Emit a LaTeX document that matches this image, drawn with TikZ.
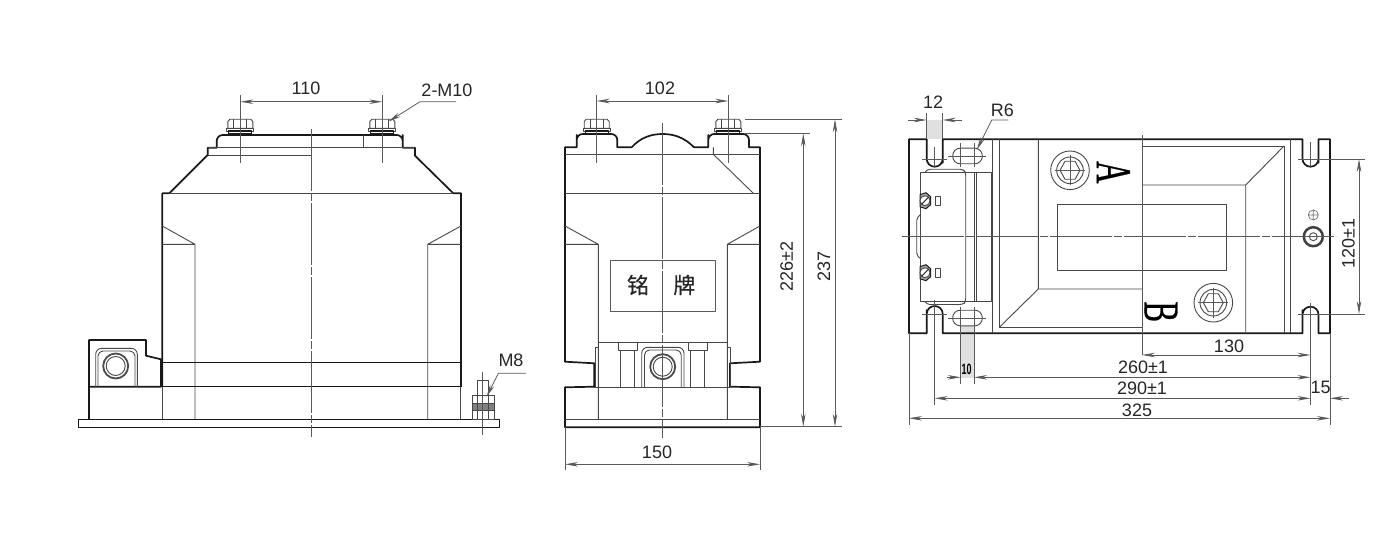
\documentclass[tikz,border=0pt]{standalone}
\usepackage{fontspec}
\setmainfont{Liberation Sans}
\newfontfamily\cjk[FakeBold=.5]{Noto Sans CJK SC}
\newfontfamily\termfont[FakeBold=.7]{Liberation Serif}
\usetikzlibrary{arrows.meta}

\begin{document}
\begin{tikzpicture}[x=1pt,y=-1pt,>={Stealth[length=13pt,width=4.5pt]},line join=round]

    \tikzstyle{outer}=[draw=black!90,line width=1.7pt]
    \tikzstyle{part}=[draw=black!72,line width=.9pt]
    \tikzstyle{axisline}=[draw=black!65,line width=.8pt,dash pattern=on 62pt off 2pt on 8pt off 2pt]
    \tikzstyle{extline}=[draw=black!65,line width=.8pt]
    \tikzstyle{dim}=[draw=black!65,line width=.8pt]
    \tikzstyle{lab}=[inner sep=0pt,font=\fontsize{18}{18}\selectfont,text=black!85]
    \tikzstyle{gray part}=[fill=black!12,draw=none]

    \useasboundingbox (0,0) rectangle (1400,548);

    % left view
    \draw[outer,line width=1.2pt] (78.3,419.3) rectangle (499.3,427.3);
    \draw[outer] (162.3,387) -- (162.3,193.3) -- (169.3,193.3) -- (207.7,155) -- (207.7,147.7) -- (216.7,147.7)
        -- (216.7,141) [rounded corners=6pt] -- (216.7,135) -- (402.7,135) -- (402.7,141) [sharp corners] -- (402.7,147.7) -- (415,147.7)
        -- (415,155.7) -- (453.3,193.3) -- (461,193.3) -- (461,387);
    \draw[part] (207.7,147.7) -- (415,147.7) (207.7,155) -- (311.7,155) (363,135) -- (363,147.7);
    \draw[part] (169.3,193.3) -- (453.3,193.3);
    \draw[part] (162.3,226) -- (195,244.3) -- (195,419.3) (162.3,244.3) -- (195,244.3);
    \draw[part] (461,226) -- (427.7,244.3) -- (427.7,419.3) (461,244.3) -- (427.7,244.3);
    \draw[outer,line width=1.1pt] (162.3,362.3) -- (461,362.3) (162.3,386.7) -- (461,386.7);
    \draw[part] (162.3,387) -- (162.3,419.3) (460.3,387) -- (460.3,419.3);
    \draw[outer] (89,419.3) -- (89,340) -- (146,340) -- (146,355.7) -- (161,359.3) -- (161,386.7) -- (89,386.7);
    \draw[part,rounded corners=6pt] (95.7,387) -- (95.7,348.3) -- (137.3,348.3) -- (137.3,387);
    \draw[part,rounded corners=5pt] (98,387) -- (98,351) -- (135,351) -- (135,387);
    \draw[draw=black!70,line width=1.8pt] (115.7,366) circle (12.5);
    \draw[part] (115.7,366) circle (9.5);
    \draw[axisline] (311.7,129) -- (311.7,437);

    % M8 bolt
    \draw[part] (477.7,395) -- (477.7,380.7) -- (488.3,380.7) -- (488.3,395);
    \fill[black!50] (472.7,403.3) rectangle (494,410);
    \draw[part] (472.7,395) rectangle (494,419.3) (472.7,403.3) -- (494,403.3) (472.7,410) -- (494,410);
    \draw[part] (477.7,395) -- (477.7,419.3) (488.3,395) -- (488.3,419.3);
    \draw[extline] (482.7,372) -- (482.7,435);
    \draw[dim,<-] (486.5,397) -- (498.3,373.3) -- (526,373.3);
    \node[lab] (labelMeight) at (511,360) {M8};

    % middle view
    \draw[outer] (565,147.3) -- (565,361.7) -- (594.3,363.3) -- (594.3,386.7) -- (565,387.3) -- (565,427.3)
        -- (760,427.3) -- (760,387.3) -- (730,386.7) -- (730,363.3) -- (760,361.7) -- (760,147.3) -- (749,147.3)
        -- (749,141) [rounded corners=6pt] -- (749,134) -- (708.3,134) -- (708.3,141) [sharp corners] -- (708.3,147.3) -- (694,147.3)
        .. controls (684,137) and (673,134) .. (662.7,134) .. controls (652,134) and (641,137) .. (631.7,147.3) -- (617.3,147.3)
        -- (617.3,141) [rounded corners=6pt] -- (617.3,134) -- (576.7,134) -- (576.7,141) [sharp corners] -- (576.7,147.3) -- cycle;
    \draw[part] (565,154.3) -- (760,154.3) (565,193.3) -- (760,193.3) (565,419.3) -- (760,419.3);
    \draw[part] (713.3,147.3) -- (713.3,154.3) -- (753.3,193.3);
    \draw[part] (565,226) -- (598.3,244.3) -- (598.3,419.3) (565,244.3) -- (598.3,244.3);
    \draw[part] (760,226) -- (727.3,244.3) -- (727.3,419.3) (760,244.3) -- (727.3,244.3);
    \draw[part] (598.3,342.5) -- (727.3,342.5) (594.3,387) -- (730,387);
    \draw[part] (595,387) -- (595,347) -- (598.3,347) (730,387) -- (730,347) -- (727.3,347);
    \foreach \tabx in {618.3,688.3} {
        \draw[part] (\tabx,342.5) -- (\tabx,350.7) -- (\tabx+19,350.7) -- (\tabx+19,342.5);
        \draw[part] (\tabx+2.5,350.7) -- (\tabx+2.5,387) (\tabx+15.7,350.7) -- (\tabx+15.7,387);
    }
    \draw[part,rounded corners=6pt] (641.7,387) -- (641.7,347.3) -- (684,347.3) -- (684,387);
    \draw[part,rounded corners=5pt] (644.5,387) -- (644.5,350) -- (681.2,350) -- (681.2,387);
    \draw[draw=black!70,line width=1.8pt] (662.7,366.7) circle (12.5);
    \draw[part] (662.7,366.7) circle (9.5);
    \node[draw=black!65,line width=.8pt,minimum width=105pt,minimum height=51.7pt,inner sep=0pt] (plate) at (662.5,285.8) {};
    \node[lab,font=\cjk\fontsize{22}{22}\selectfont] (plateLeft) at (638,285) {铭};
    \node[lab,font=\cjk\fontsize{22}{22}\selectfont] (plateRight) at (684.3,285) {牌};
    \draw[axisline] (662.7,123) -- (662.7,438);

    % bolts
    \foreach \boltx in {240.3,382.3,596.7,728.3} {
        \draw[part,fill=white] (\boltx-12.5,128.3) -- (\boltx-12.5,121.5) -- (\boltx-10.5,119.3) -- (\boltx+10.5,119.3) -- (\boltx+12.5,121.5) -- (\boltx+12.5,128.3) -- cycle;
        \draw[part] (\boltx-6.5,119.3) -- (\boltx-6.5,128.3) (\boltx+6.5,119.3) -- (\boltx+6.5,128.3);
        \draw[part,fill=white] (\boltx-13.5,128.3) rectangle (\boltx+13.5,131);
        \draw[outer,line width=1.1pt] (\boltx-11.5,131) rectangle (\boltx+11.5,134);
    }

    % right view
    \fill[gray part] (926.7,120) rectangle (942.7,139.3);
    \fill[gray part] (960.7,326) rectangle (974,378);
    \draw[outer] (909,139.3) -- (926.7,139.3) -- (926.7,155) [rounded corners=7.9pt] -- (926.7,166.7) -- (942.7,166.7) -- (942.7,155)
        [sharp corners] -- (942.7,139.3) -- (1302.5,139.3) -- (1302.5,155) [rounded corners=7.9pt] -- (1302.5,166.7) -- (1318.5,166.7) -- (1318.5,155)
        [sharp corners] -- (1318.5,139.3) -- (1330,139.3) -- (1330,333.3) -- (1318.5,333.3) -- (1318.5,318)
        [rounded corners=7.9pt] -- (1318.5,306.7) -- (1302.5,306.7) -- (1302.5,318) [sharp corners] -- (1302.5,333.3)
        -- (942.7,333.3) -- (942.7,318) [rounded corners=7.9pt] -- (942.7,306) -- (926.7,306) -- (926.7,318)
        [sharp corners] -- (926.7,333.3) -- (909,333.3) -- cycle;
    \draw[part] (992.7,139.3) -- (992.7,333.3) (999.3,139.3) -- (999.3,327.3) -- (1142,327.3);
    \draw[part] (999.3,327.3) -- (1038.3,289) -- (1142,289) (1038.3,139.3) -- (1038.3,289);
    \draw[part] (1142,146) -- (1284,146) -- (1284,333.3) (1290,139.3) -- (1290,333.3);
    \draw[part] (1284,146) -- (1245.7,185) -- (1142,185) (1245.7,185) -- (1245.7,333.3);
    \draw[part] (1057.7,204.3) rectangle (1226,270);
    \draw[extline] (1142,135) -- (1142,355);

    % terminal block
    \draw[part,fill=white] (920,172.3) rectangle (991,301.7);
    \draw[part,rounded corners=3pt] (925,172.3) -- (927,169.3) -- (963,169.3) -- (965.7,172.3) -- (965.7,301.7) -- (963,304.5) -- (927,304.5) -- (925,301.7);
    \draw[part] (974,172.3) -- (974,301.7) (976.5,172.3) -- (976.5,301.7);
    \draw[part,rounded corners=2pt] (920,215) -- (916.7,218.3) -- (916.7,255) -- (920,258.3);
    \foreach \screwy/\markup in {200.7/196.5,272.7/268.3} {
        \draw[outer,line width=1pt,fill=black!35] (920,\screwy-6) -- (926,\screwy-8) -- (930.5,\screwy-4) -- (930.5,\screwy+4) -- (926,\screwy+8) -- (920,\screwy+6) -- cycle;
        \draw[part,fill=white] (925,\screwy) circle (5);
        \draw[outer,line width=1pt] (921.5,\screwy+3.5) -- (928.5,\screwy-3.5);
        \draw[part] (935,\markup) rectangle (940.7,\markup+9.3);
    }

    % slots and holes
    \foreach \holey in {156,318}
        \draw[part,rounded corners=7.5pt] (952.7,\holey-7.8) rectangle (982.3,\holey+7.8);
    \draw[extline] (948,156) -- (986,156) (948,318) -- (986,318);
    \draw[extline] (960.7,143.3) -- (960.7,166.7) (974,143.3) -- (974,166.7);
    \draw[extline] (960.7,306.7) -- (960.7,384) (974,306.7) -- (974,384);
    \draw[extline] (926.7,113) -- (926.7,139.3) (942.7,113) -- (942.7,139.3);
    \draw[extline] (922.3,159) -- (946.7,159) (922.3,314) -- (946.7,314);
    \draw[extline] (934.7,146.7) -- (934.7,166.7) (934.7,300) -- (934.7,405);
    \draw[extline] (1310.5,141.7) -- (1310.5,166.7) (1310.5,303) -- (1310.5,405);
    \draw[extline] (909,333.3) -- (909,425) (1330,333.3) -- (1330,425);

    % A and B terminals
    \foreach \termx/\termy in {1070/170.3,1213.3/302.7} {
        \draw[part] (\termx,\termy) circle (19.3);
        \draw[part] (\termx,\termy) circle (13.3);
        \draw[part] (\termx-10,\termy) -- (\termx-5,\termy-9) -- (\termx+5,\termy-9) -- (\termx+10,\termy) -- (\termx+5,\termy+9) -- (\termx-5,\termy+9) -- cycle;
        \draw[extline] (\termx-15,\termy) -- (\termx+15,\termy) (\termx,\termy-15) -- (\termx,\termy+15);
    }
    \node[inner sep=0pt,rotate=-90,font=\termfont\fontsize{50}{50}\selectfont] (terminalA) at (1113.3,172.3) {\scalebox{.62}[1]{A}};
    \node[inner sep=0pt,rotate=-90,font=\termfont\fontsize{50}{50}\selectfont] (terminalB) at (1161,311.7) {\scalebox{.62}[1]{B}};

    % earth stud
    \draw[draw=black!75,line width=2.5pt] (1313.3,236.7) circle (9.5);
    \draw[part] (1313.3,236.7) circle (4);
    \draw[draw=black!55,line width=.7pt] (1313.3,215) circle (5) (1308.3,215) -- (1318.3,215) (1313.3,210) -- (1313.3,220);
    \draw[axisline] (901.7,236.7) -- (1335.7,236.7);

    % dimensions, left and middle views
    \draw[extline] (240.3,95) -- (240.3,163) (382.3,95) -- (382.3,163);
    \draw[dim,<->] (240.3,101.7) -- (382.3,101.7);
    \node[lab] (labelWidthLeft) at (306,88) {110};
    \draw[dim,<-] (388.3,121.7) -- (420,101.7) -- (456,101.7);
    \node[lab] (labelBolt) at (447,90) {2-M10};
    \draw[extline] (596.7,95) -- (596.7,163) (728.3,95) -- (728.3,163);
    \draw[dim,<->] (596.7,101) -- (728.3,101);
    \node[lab] (labelWidthMid) at (660,88) {102};
    \draw[extline] (565,427.3) -- (565,470) (760,427.3) -- (760,470);
    \draw[dim,<->] (565,464.3) -- (760,464.3);
    \node[lab] (labelBase) at (657,452) {150};
    \draw[extline] (745,133.3) -- (810,133.3) (745,119.3) -- (841.7,119.3) (760,426.7) -- (841.7,426.7);
    \draw[dim,<->] (803.3,133.3) -- (803.3,426.7);
    \draw[dim,<->] (835,119.3) -- (835,426.7);
    \node[lab,rotate=90] (labelHeightA) at (786.7,266.7) {226±2};
    \node[lab,rotate=90] (labelHeightB) at (824,266.7) {237};

    % dimensions, right view
    \draw[dim,->] (907.7,120) -- (926.7,120);
    \draw[dim,->] (961.7,120) -- (942.7,120);
    \node[lab] (labelSlot) at (933,102.7) {12};
    \draw[dim,<-] (976.7,150) -- (991.7,120) -- (1008.3,120);
    \node[lab] (labelRadius) at (1002.3,110) {R6};
    \draw[extline] (1298,159) -- (1365,159) (1298,314) -- (1365,314);
    \draw[dim,<->] (1359,159) -- (1359,314);
    \node[lab,rotate=90] (labelPitch) at (1348.3,243.3) {120±1};
    \draw[dim,<->] (1142,355) -- (1310.5,355);
    \node[lab] (labelHalf) at (1229,346) {130};
    \draw[dim,->] (946.7,377.3) -- (960.7,377.3);
    \draw[dim,<->] (974,377.3) -- (1310.5,377.3);
    \node[lab] (labelHoles) at (1143,367) {260±1};
    \node[inner sep=0pt,font=\rmfamily\bfseries\fontsize{15}{15}\selectfont] (labelHole) at (966.7,369.3) {\scalebox{.6}[1]{10}};
    \draw[dim,<->] (934.7,398.3) -- (1310.5,398.3);
    \node[lab] (labelSlots) at (1142,388) {290±1};
    \draw[dim,->] (1349,398.3) -- (1330,398.3);
    \node[lab] (labelEdge) at (1320.7,387.3) {15};
    \draw[dim,<->] (909,418.3) -- (1330,418.3);
    \node[lab] (labelTotal) at (1137,410) {325};

\end{tikzpicture}
\end{document}
